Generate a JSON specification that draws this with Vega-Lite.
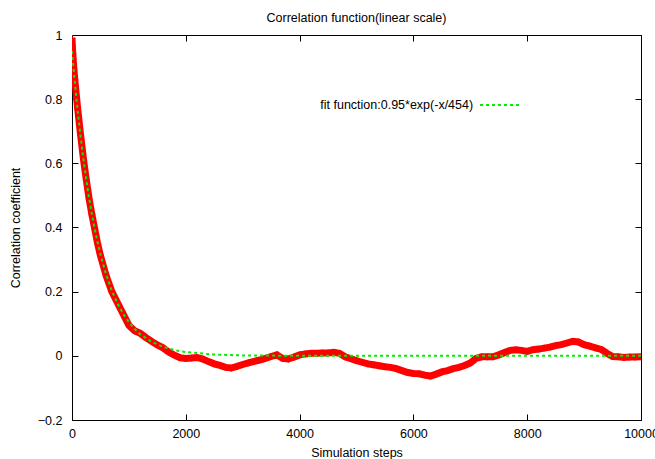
{
  "$schema": "https://vega.github.io/schema/vega-lite/v6.json",
  "autosize": "none",
  "width": 569,
  "height": 385,
  "padding": {"left": 72, "top": 35, "right": 14, "bottom": 39},
  "background": "white",
  "config": {
    "view": {"stroke": null},
    "font": "Liberation Sans",
    "axis": {"grid": false, "domainColor": "black", "tickColor": "black", "labelColor": "black", "titleColor": "black", "labelFont": "Liberation Sans", "titleFont": "Liberation Sans", "labelFontSize": 12.5, "titleFontSize": 12.5, "titleFontWeight": "normal", "tickSize": -6, "domainWidth": 1, "tickWidth": 1, "labelFlush": false, "labelOverlap": false}
  },
  "title": {"text": "Correlation function(linear scale)", "font": "Liberation Sans", "fontSize": 12.5, "fontWeight": "normal", "color": "black", "offset": 5},
  "datasets": {
    "corr": [
      {"step": 0, "c": 0.99}, {"step": 5, "c": 0.97}, {"step": 10, "c": 0.955}, {"step": 15, "c": 0.94}, {"step": 20, "c": 0.925}, {"step": 25, "c": 0.913},
      {"step": 50, "c": 0.86}, {"step": 100, "c": 0.77}, {"step": 150, "c": 0.69}, {"step": 200, "c": 0.615}, {"step": 250, "c": 0.55}, {"step": 300, "c": 0.49},
      {"step": 350, "c": 0.44}, {"step": 400, "c": 0.395}, {"step": 450, "c": 0.35}, {"step": 500, "c": 0.312}, {"step": 600, "c": 0.25}, {"step": 700, "c": 0.2},
      {"step": 800, "c": 0.165}, {"step": 900, "c": 0.13}, {"step": 1000, "c": 0.095}, {"step": 1100, "c": 0.078}, {"step": 1200, "c": 0.07}, {"step": 1300, "c": 0.057},
      {"step": 1400, "c": 0.045}, {"step": 1500, "c": 0.034}, {"step": 1600, "c": 0.025}, {"step": 1700, "c": 0.012}, {"step": 1800, "c": 0.002}, {"step": 1900, "c": -0.006},
      {"step": 2000, "c": -0.008}, {"step": 2100, "c": -0.007}, {"step": 2200, "c": -0.005}, {"step": 2300, "c": -0.01}, {"step": 2400, "c": -0.018}, {"step": 2500, "c": -0.025},
      {"step": 2600, "c": -0.03}, {"step": 2700, "c": -0.036}, {"step": 2800, "c": -0.038}, {"step": 2900, "c": -0.033}, {"step": 3000, "c": -0.027}, {"step": 3100, "c": -0.022},
      {"step": 3200, "c": -0.017}, {"step": 3300, "c": -0.013}, {"step": 3400, "c": -0.008}, {"step": 3500, "c": -0.002}, {"step": 3600, "c": 0.003}, {"step": 3700, "c": -0.008},
      {"step": 3800, "c": -0.01}, {"step": 3900, "c": -0.004}, {"step": 4000, "c": 0.003}, {"step": 4100, "c": 0.006}, {"step": 4200, "c": 0.008}, {"step": 4300, "c": 0.008},
      {"step": 4400, "c": 0.009}, {"step": 4500, "c": 0.009}, {"step": 4600, "c": 0.011}, {"step": 4700, "c": 0.008}, {"step": 4800, "c": -0.003}, {"step": 4900, "c": -0.009},
      {"step": 5000, "c": -0.015}, {"step": 5100, "c": -0.02}, {"step": 5200, "c": -0.025}, {"step": 5300, "c": -0.028}, {"step": 5400, "c": -0.031}, {"step": 5500, "c": -0.034},
      {"step": 5600, "c": -0.036}, {"step": 5700, "c": -0.04}, {"step": 5800, "c": -0.046}, {"step": 5900, "c": -0.052}, {"step": 6000, "c": -0.055}, {"step": 6100, "c": -0.056},
      {"step": 6200, "c": -0.06}, {"step": 6300, "c": -0.063}, {"step": 6400, "c": -0.057}, {"step": 6500, "c": -0.05}, {"step": 6600, "c": -0.046}, {"step": 6700, "c": -0.04},
      {"step": 6800, "c": -0.036}, {"step": 6900, "c": -0.03}, {"step": 7000, "c": -0.022}, {"step": 7100, "c": -0.008}, {"step": 7200, "c": -0.003}, {"step": 7300, "c": -0.003},
      {"step": 7400, "c": -0.003}, {"step": 7500, "c": 0.003}, {"step": 7600, "c": 0.01}, {"step": 7700, "c": 0.017}, {"step": 7800, "c": 0.019}, {"step": 7900, "c": 0.017},
      {"step": 8000, "c": 0.014}, {"step": 8100, "c": 0.019}, {"step": 8200, "c": 0.021}, {"step": 8300, "c": 0.024}, {"step": 8400, "c": 0.027}, {"step": 8500, "c": 0.032},
      {"step": 8600, "c": 0.035}, {"step": 8700, "c": 0.04}, {"step": 8800, "c": 0.045}, {"step": 8900, "c": 0.043}, {"step": 9000, "c": 0.035}, {"step": 9100, "c": 0.03},
      {"step": 9200, "c": 0.025}, {"step": 9300, "c": 0.02}, {"step": 9400, "c": 0.008}, {"step": 9500, "c": -0.002}, {"step": 9600, "c": -0.003}, {"step": 9700, "c": -0.005},
      {"step": 9800, "c": -0.004}, {"step": 9900, "c": -0.004}, {"step": 10000, "c": -0.003}
    ],
    "fit": [
      {"step": 0, "f": 0.95}, {"step": 50, "f": 0.852}, {"step": 100, "f": 0.764}, {"step": 150, "f": 0.685}, {"step": 200, "f": 0.614}, {"step": 250, "f": 0.551},
      {"step": 300, "f": 0.492}, {"step": 350, "f": 0.441}, {"step": 400, "f": 0.394}, {"step": 450, "f": 0.354}, {"step": 500, "f": 0.316}, {"step": 600, "f": 0.253},
      {"step": 700, "f": 0.203}, {"step": 800, "f": 0.163}, {"step": 900, "f": 0.131}, {"step": 1000, "f": 0.105}, {"step": 1100, "f": 0.084}, {"step": 1200, "f": 0.067},
      {"step": 1400, "f": 0.0436}, {"step": 1600, "f": 0.028}, {"step": 1800, "f": 0.018}, {"step": 2000, "f": 0.0116}, {"step": 2500, "f": 0.0039}, {"step": 3000, "f": 0.0013},
      {"step": 4000, "f": 0.0001}, {"step": 5000, "f": 0.0}, {"step": 10000, "f": 0.0}
    ],
    "legend": [
      {"xt": 7050, "x": 7170, "x2": 7870, "y": 0.782, "label": "fit function:0.95*exp(-x/454)"}
    ]
  },
  "resolve": {"axis": {"x": "independent", "y": "independent"}},
  "layer": [
    {
      "data": {"name": "corr"},
      "layer": [
        {
          "mark": {"type": "line", "color": "#ff0000", "strokeWidth": 7, "clip": true},
          "encoding": {
            "x": {"field": "step", "type": "quantitative", "scale": {"domain": [0, 10000], "nice": false}, "axis": {"title": "Simulation steps", "values": [0, 2000, 4000, 6000, 8000, 10000], "format": "d", "titlePadding": 7, "labelPadding": 13}},
            "y": {"field": "c", "type": "quantitative", "scale": {"domain": [-0.2, 1], "nice": false, "zero": false}, "axis": {"title": "Correlation coefficient", "values": [-0.2, 0, 0.2, 0.4, 0.6, 0.8, 1], "format": "~g", "titlePadding": 15, "labelPadding": 16}}
          }
        },
        {
          "mark": {"type": "point", "shape": "M-1,0L1,0M0,-1L0,1", "color": "#ff0000", "filled": false, "strokeWidth": 1.2, "size": 45, "opacity": 1, "clip": true},
          "encoding": {
            "x": {"field": "step", "type": "quantitative", "scale": {"domain": [0, 10000], "nice": false}},
            "y": {"field": "c", "type": "quantitative", "scale": {"domain": [-0.2, 1], "nice": false, "zero": false}}
          }
        }
      ]
    },
    {
      "data": {"name": "fit"},
      "mark": {"type": "line", "color": "#00ee00", "strokeWidth": 2, "strokeDash": [3, 3], "clip": true},
      "encoding": {
        "x": {"field": "step", "type": "quantitative", "scale": {"domain": [0, 10000], "nice": false}, "axis": {"orient": "top", "labels": false, "title": null, "values": [0, 2000, 4000, 6000, 8000, 10000]}},
        "y": {"field": "f", "type": "quantitative", "scale": {"domain": [-0.2, 1], "nice": false, "zero": false}, "axis": {"orient": "right", "labels": false, "title": null, "values": [-0.2, 0, 0.2, 0.4, 0.6, 0.8, 1]}}
      }
    },
    {
      "data": {"name": "legend"},
      "layer": [
        {
          "mark": {"type": "text", "align": "right", "baseline": "middle", "font": "Liberation Sans", "fontSize": 12.5, "color": "black"},
          "encoding": {
            "x": {"field": "xt", "type": "quantitative", "scale": {"domain": [0, 10000], "nice": false}, "axis": null},
            "y": {"field": "y", "type": "quantitative", "scale": {"domain": [-0.2, 1], "nice": false, "zero": false}, "axis": null},
            "text": {"field": "label"}
          }
        },
        {
          "mark": {"type": "rule", "color": "#00ee00", "strokeWidth": 2, "strokeDash": [3, 3]},
          "encoding": {
            "x": {"field": "x", "type": "quantitative", "scale": {"domain": [0, 10000], "nice": false}, "axis": null},
            "x2": {"field": "x2"},
            "y": {"field": "y", "type": "quantitative", "scale": {"domain": [-0.2, 1], "nice": false, "zero": false}, "axis": null}
          }
        }
      ]
    }
  ]
}
